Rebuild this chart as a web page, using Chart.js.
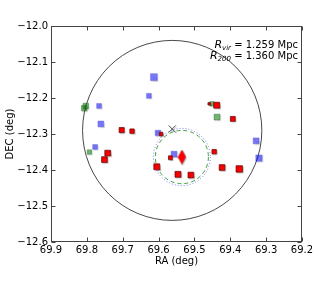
<!DOCTYPE html>
<html>
<head>
<meta charset="utf-8">
<script src="https://cdn.jsdelivr.net/npm/chart.js@4"></script>
<style>
  html, body { margin: 0; padding: 0; background: #fff; }
  #wrap { width: 320px; height: 288px; }
</style>
</head>
<body>
<div id="wrap"><canvas id="chart" width="320" height="288"></canvas></div>
<script>
// axis ticks
const raTicks = [69.9, 69.8, 69.7, 69.6, 69.5, 69.4, 69.3, 69.2];
const raTickLabels = ["69.9", "69.8", "69.7", "69.6", "69.5", "69.4", "69.3", "69.2"];
const decTicks = [-12.0, -12.1, -12.2, -12.3, -12.4, -12.5, -12.6];
const decTickLabels = ["\u221212.0", "\u221212.1", "\u221212.2", "\u221212.3", "\u221212.4", "\u221212.5", "\u221212.6"];

// galaxies (RA, DEC in deg) + marker side in px
const blueRa = [69.613, 69.627, 69.766, 69.761, 69.777, 69.328, 69.320, 69.557, 69.602];
const blueDec = [-12.142, -12.194, -12.222, -12.272, -12.336, -12.319, -12.367, -12.356, -12.297];
const blueSize = [7.5, 5.5, 5.5, 6.5, 5.5, 6.5, 7, 6.5, 6];

const greenRa = [69.8075, 69.803, 69.437, 69.793, 69.451];
const greenDec = [-12.228, -12.222, -12.253, -12.350, -12.216];
const greenSize = [6, 6, 6.5, 5, 5];

const redRa = [69.703, 69.674, 69.742, 69.751, 69.605, 69.593, 69.567, 69.546, 69.510, 69.445, 69.423, 69.375, 69.438, 69.393, 69.459];
const redDec = [-12.289, -12.292, -12.353, -12.371, -12.391, -12.300, -12.366, -12.412, -12.414, -12.349, -12.393, -12.397, -12.220, -12.258, -12.216];
const redSize = [5.7, 5, 6.3, 6.3, 6.5, 4, 4.5, 6.5, 6.3, 5, 6.3, 7, 6.5, 5.5, 3];

const bcgRa = [69.535];
const bcgDec = [-12.364];
const centerRa = [69.562];
const centerDec = [-12.286];

// circles: [ra, dec, radius in deg]
const virCircle = [69.562, -12.290, 0.25];
const blueCircle = [69.535, -12.364, 0.0795];
const greenCircle = [69.535, -12.364, 0.074];

const annotations = [
  { sub: "vir", value: " = 1.259 Mpc" },
  { sub: "200", value: " = 1.360 Mpc" },
];

const FONT = "DejaVu Sans";

function points(ra, dec) {
  return ra.map((x, i) => ({ x, y: dec[i] }));
}
const toRadius = sizes => sizes.map(s => Math.max(s - 0.6, 1) / 1.414);

function diamondImage() {
  const c = document.createElement("canvas");
  c.width = 9; c.height = 15;
  const g = c.getContext("2d");
  g.beginPath();
  g.moveTo(4.5, 0.5); g.lineTo(8.3, 7.5); g.lineTo(4.5, 14.5); g.lineTo(0.7, 7.5); g.closePath();
  g.fillStyle = "#ff0000"; g.fill();
  g.strokeStyle = "#a00000"; g.lineWidth = 0.6; g.stroke();
  return c;
}

const circlesPlugin = {
  id: "circles",
  beforeDatasetsDraw(chart) {
    const { ctx, scales: { x, y }, chartArea } = chart;
    const draw = (c, color, dash, width) => {
      const cx = x.getPixelForValue(c[0]);
      const cy = y.getPixelForValue(c[1]);
      const rx = Math.abs(x.getPixelForValue(c[0] + c[2]) - cx);
      const ry = Math.abs(y.getPixelForValue(c[1] + c[2]) - cy);
      ctx.save();
      ctx.beginPath();
      ctx.rect(chartArea.left, chartArea.top, chartArea.right - chartArea.left, chartArea.bottom - chartArea.top);
      ctx.clip();
      ctx.beginPath();
      ctx.ellipse(cx, cy, rx, ry, 0, 0, Math.PI * 2);
      ctx.setLineDash(dash);
      ctx.strokeStyle = color;
      ctx.lineWidth = width;
      ctx.stroke();
      ctx.restore();
    };
    draw(virCircle, "#333333", [], 0.9);
    draw(blueCircle, "rgba(90,90,255,0.8)", [1, 2], 1);
    draw(greenCircle, "rgba(40,150,40,0.9)", [4, 3], 1);
  },
  beforeDatasetDraw(chart) {
    const ctx = chart.ctx;
    ctx.save();
    ctx.shadowColor = "rgba(0,0,0,0.22)";
    ctx.shadowOffsetX = 1;
    ctx.shadowOffsetY = 1;
    ctx.shadowBlur = 1;
  },
  afterDatasetDraw(chart) {
    chart.ctx.restore();
  },
};

const framePlugin = {
  id: "frame",
  afterDraw(chart) {
    const { ctx, scales: { x, y }, chartArea: a } = chart;
    ctx.save();
    ctx.strokeStyle = "#444444";
    ctx.lineWidth = 1;
    const L = Math.round(a.left) + 0.5, R = Math.round(a.right) - 0.5;
    const T = Math.round(a.top) + 0.5, B = Math.round(a.bottom) - 0.5;
    ctx.strokeRect(L, T, R - L, B - T);
    ctx.beginPath();
    for (const v of raTicks) {
      const px = Math.round(x.getPixelForValue(v)) + 0.5;
      ctx.moveTo(px, B); ctx.lineTo(px, B - 4);
      ctx.moveTo(px, T); ctx.lineTo(px, T + 4);
    }
    for (const v of decTicks) {
      const py = Math.round(y.getPixelForValue(v)) + 0.5;
      ctx.moveTo(L, py); ctx.lineTo(L + 4, py);
      ctx.moveTo(R, py); ctx.lineTo(R - 4, py);
    }
    ctx.stroke();

    // R_vir / R_200 labels, right aligned
    ctx.fillStyle = "#000";
    ctx.textBaseline = "alphabetic";
    ctx.textAlign = "left";
    const right = 298;
    annotations.forEach((ann, i) => {
      const base = 48 + i * 11;
      ctx.font = `italic 11px ${FONT}`;
      const wR = ctx.measureText("R").width;
      ctx.font = `italic 7px ${FONT}`;
      const wS = ctx.measureText(ann.sub).width;
      ctx.font = `10px ${FONT}`;
      const wV = ctx.measureText(ann.value).width;
      let px = right - wR - wS - wV;
      ctx.font = `italic 11px ${FONT}`;
      ctx.fillText("R", px, base);
      px += wR;
      ctx.font = `italic 7px ${FONT}`;
      ctx.fillText(ann.sub, px, base + 2);
      px += wS;
      ctx.font = `10px ${FONT}`;
      ctx.fillText(ann.value, px, base);
    });
    ctx.restore();
  },
};

new Chart(document.getElementById("chart"), {
  type: "scatter",
  data: {
    datasets: [
      {
        label: "BCG",
        data: points(bcgRa, bcgDec),
        pointStyle: diamondImage(),
        pointRadius: 7,
      },
      {
        label: "center",
        data: points(centerRa, centerDec),
        pointStyle: "crossRot",
        pointRadius: 5,
        borderColor: "#555",
        borderWidth: 1,
        backgroundColor: "#555",
      },
      {
        label: "red",
        data: points(redRa, redDec),
        pointStyle: "rect",
        pointRadius: toRadius(redSize),
        backgroundColor: "#ff0000",
        borderColor: "#700000",
        borderWidth: 0.7,
      },
      {
        label: "green",
        data: points(greenRa, greenDec),
        pointStyle: "rect",
        pointRadius: toRadius(greenSize),
        backgroundColor: "rgba(0,128,0,0.5)",
        borderColor: "rgba(0,90,0,0.5)",
        borderWidth: 0.7,
      },
      {
        label: "blue",
        data: points(blueRa, blueDec),
        pointStyle: "rect",
        pointRadius: toRadius(blueSize),
        backgroundColor: "rgba(0,0,255,0.5)",
        borderColor: "rgba(60,60,220,0.45)",
        borderWidth: 0.7,
      },
    ],
  },
  options: {
    responsive: false,
    animation: false,
    devicePixelRatio: 1,
    layout: { padding: { left: 0, top: 26, right: 18, bottom: 0 } },
    plugins: { legend: { display: false }, tooltip: { enabled: false } },
    elements: { point: { hoverRadius: 0 } },
    scales: {
      x: {
        type: "linear",
        reverse: true,
        min: 69.2,
        max: 69.9,
        afterBuildTicks: s => { s.ticks = raTicks.map(v => ({ value: v })); },
        afterFit: s => { s.height = 46; },
        grid: { display: false, drawTicks: false },
        border: { display: false },
        ticks: {
          padding: 2,
          maxRotation: 0,
          autoSkip: false,
          color: "#000",
          font: { family: FONT, size: 10 },
          callback: (v, i) => raTickLabels[i],
        },
        title: {
          display: true,
          text: "RA (deg)",
          color: "#000",
          font: { family: FONT, size: 10 },
          padding: { top: 0, bottom: 21 },
        },
      },
      y: {
        type: "linear",
        min: -12.6,
        max: -12.0,
        afterBuildTicks: s => { s.ticks = decTicks.slice().reverse().map(v => ({ value: v })); },
        afterFit: s => { s.width = 51; },
        grid: { display: false, drawTicks: false },
        border: { display: false },
        ticks: {
          padding: 3,
          autoSkip: false,
          color: "#000",
          font: { family: FONT, size: 10 },
          callback: v => decTickLabels[decTicks.findIndex(t => Math.abs(t - v) < 1e-6)],
        },
        title: {
          display: true,
          text: "DEC (deg)",
          color: "#000",
          font: { family: FONT, size: 10 },
          padding: { top: 4, bottom: 0 },
        },
      },
    },
  },
  plugins: [circlesPlugin, framePlugin],
});
</script>
</body>
</html>
